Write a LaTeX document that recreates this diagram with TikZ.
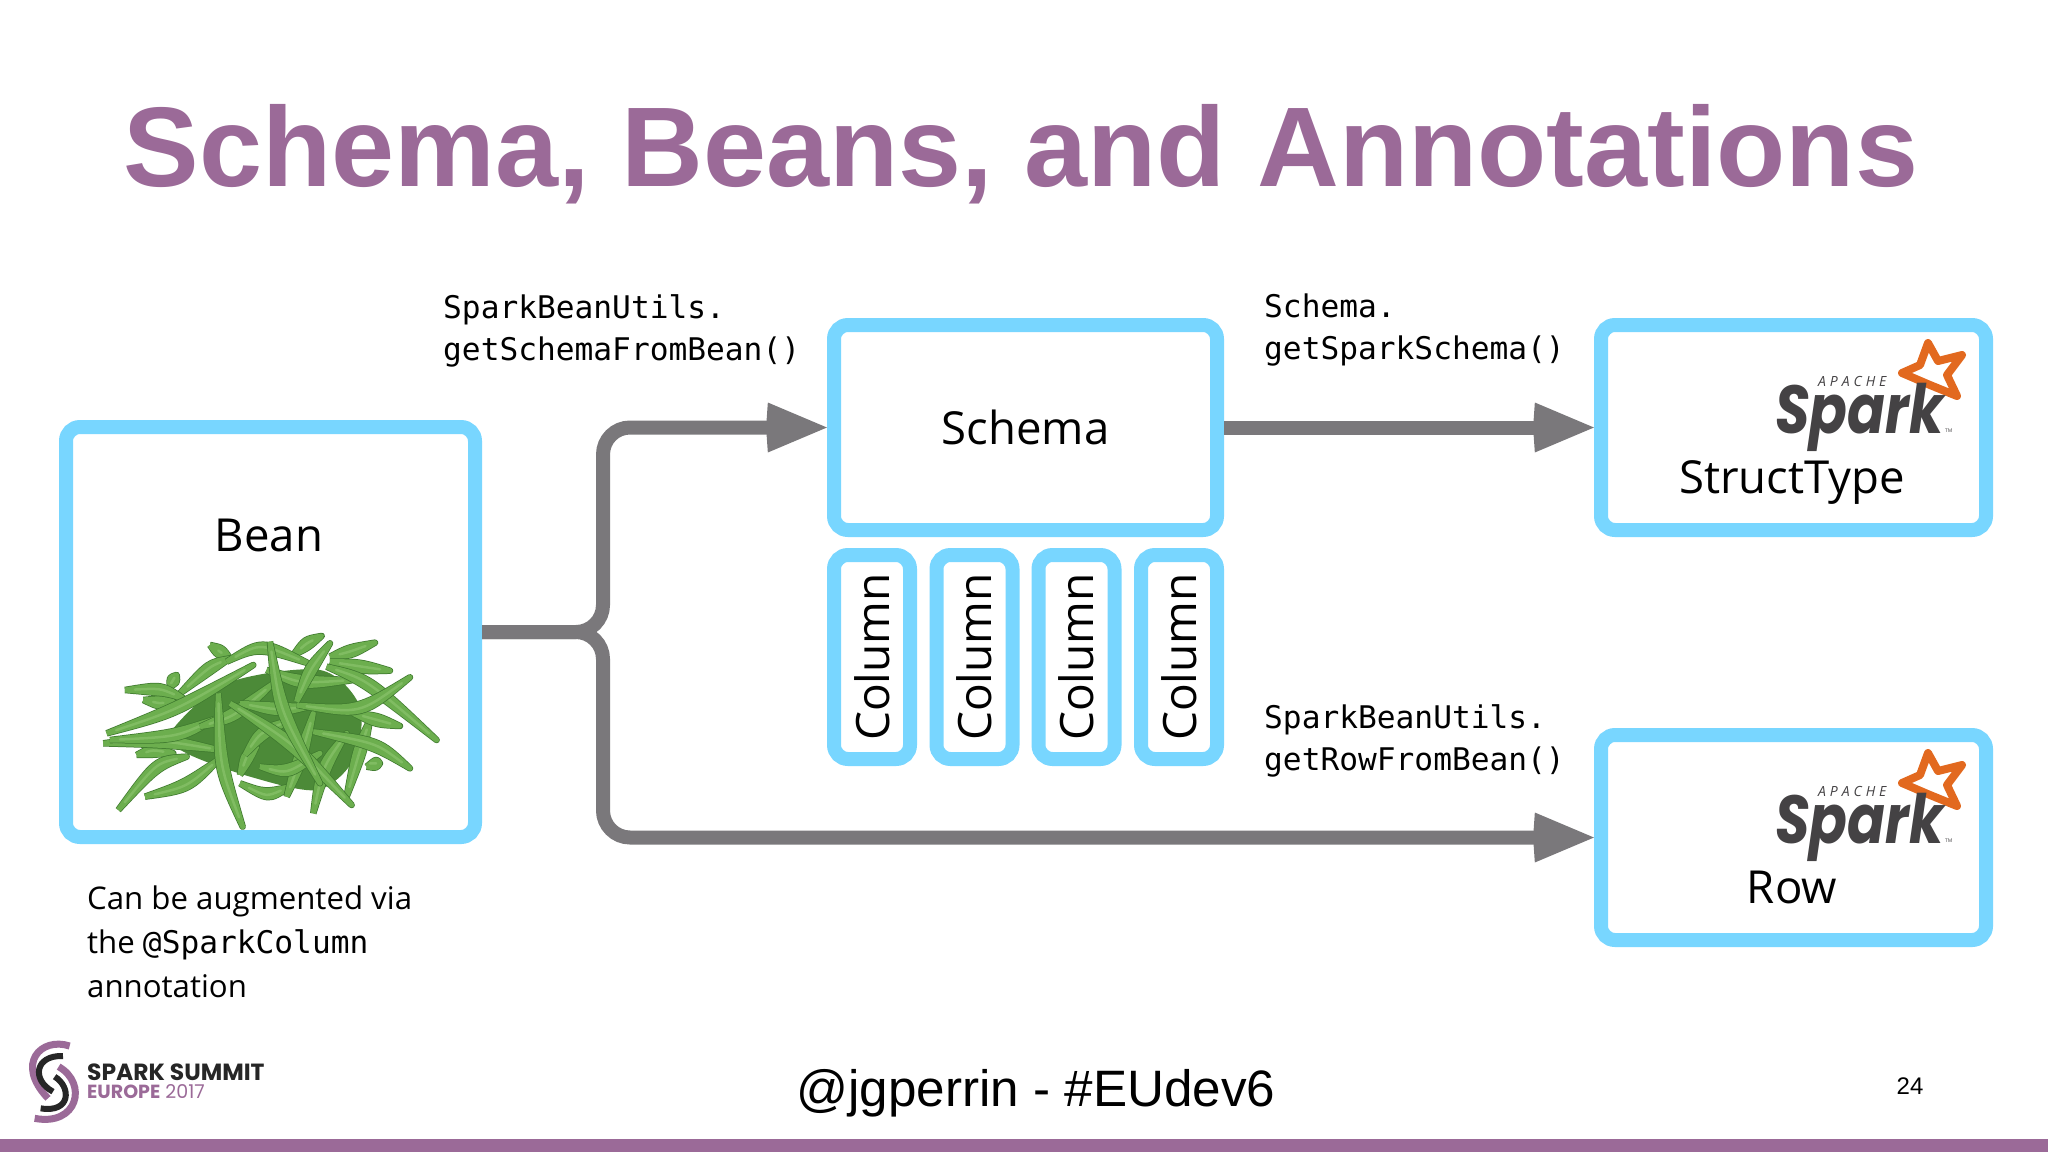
\documentclass[tikz,border=0pt]{standalone}
\usepackage{fontspec}
\setmainfont{Open Sans}
\newfontfamily\titlefont{Liberation Sans}
\newfontfamily\codefont{DejaVu Sans Mono}
\newfontfamily\logofont{Poppins}
\newfontfamily\apachefont[LetterSpace=28]{Open Sans}
\usetikzlibrary{arrows.meta,calc}
\definecolor{skyblue}{HTML}{78D6FF}
\definecolor{flowgray}{HTML}{7A787B}
\definecolor{slidepurple}{HTML}{9B6A98}
\definecolor{sparkgray}{HTML}{444244}
\definecolor{sparkorange}{HTML}{E2691F}
\definecolor{beangreen}{HTML}{6CAE4E}
\definecolor{beanlight}{HTML}{80BC62}
\definecolor{beandark}{HTML}{3F7A2F}
\tikzset{
    box/.style={draw=skyblue, line width=14pt, rounded corners=14pt, fill=white},
    colbox/.style={box, minimum width=204pt, minimum height=76pt, rotate=90, inner sep=0pt, font=\fontsize{46}{50}\selectfont},
    flow/.style={draw=flowgray, line width=14pt, rounded corners=27pt, shorten >=-2pt, -{Stealth[length=59pt, width=44pt, inset=-4pt]}},
    code/.style={anchor=north west, align=left, inner sep=0pt, font=\codefont\fontsize{31.2}{42}\selectfont},
    bigtext/.style={inner sep=0pt, font=\fontsize{45.5}{50}\selectfont},
    sparklogo/.pic={
        \draw[sparkorange, fill=white, line width=8pt, line join=round]
            (153,-90) -- (163,-72) -- (187,-78) -- (172,-58) -- (182,-37) -- (155,-48) -- (127,-60) -- (145,-68) -- cycle;
        \node[anchor=base west, inner sep=0pt, text=sparkgray, font=\logofont\bfseries\itshape\fontsize{68}{70}\selectfont] (-word) at (0,0) {\scalebox{0.82}[1]{Spark}};
        \node[anchor=base west, inner sep=0pt, text=sparkgray, font=\apachefont\itshape\fontsize{14}{14}\selectfont] (-apache) at (43,-47) {APACHE};
        \node[anchor=base west, inner sep=0pt, text=sparkgray, font=\fontsize{5}{6}\selectfont] (-tm) at (170,-1) {TM};
    }
}
\begin{document}
\begin{tikzpicture}[x=1pt, y=-1pt]
    \useasboundingbox (0,0) rectangle (2048,1152);
    \fill[white] (0,0) rectangle (2048,1152);
    \fill[slidepurple] (0,1139) rectangle (2048,1152);

    \node[anchor=base, inner sep=0pt, text=slidepurple, font=\titlefont\bfseries\fontsize{113.3}{120}\selectfont] (title) at (1021,186) {Schema, Beans, and Annotations};

    % boxes
    \node[box, minimum width=409pt, minimum height=410pt] (bean) at (270.5,632) {};
    \node[box, minimum width=383pt, minimum height=205pt, bigtext] (schema) at (1025.5,427.5) {Schema};
    \node[box, minimum width=385pt, minimum height=205pt] (structtype) at (1793.5,427.5) {};
    \node[box, minimum width=385pt, minimum height=205pt] (row) at (1793.5,837.5) {};

    \foreach \i/\x in {1/872,2/974.5,3/1076.5,4/1179}
        \node[colbox] (col\i) at (\x,657) {Column};

    % beans
    \begin{scope}[shift={(60,600)}, x=0.3333pt, y=-0.3333pt]
        \fill[beandark!70!beangreen] plot[smooth cycle] coordinates {(330,400) (500,250) (780,210) (900,320) (880,480) (770,570) (570,530) (380,460)};
        \foreach \p/\q/\r in {
            {450,135}/{480,155}/{510,175}, {700,165}/{740,130}/{785,108}, {810,170}/{870,155}/{945,128},
            {810,185}/{900,200}/{990,212}, {330,260}/{340,240}/{350,225}, {230,465}/{280,450}/{340,460},
            {540,550}/{620,590}/{690,560}, {760,640}/{790,500}/{860,400}, {920,500}/{950,490}/{960,490},
            {860,590}/{900,450}/{930,360}, {680,590}/{720,480}/{760,340}, {540,525}/{560,470}/{590,440},
            {360,280}/{450,200}/{510,175}, {195,270}/{300,265}/{370,295}, {250,300}/{300,310}/{340,305},
            {175,630}/{290,490}/{380,470}, {255,590}/{380,560}/{480,475}, {130,430}/{300,420}/{480,450},
            {140,400}/{350,330}/{580,195}, {150,420}/{350,410}/{470,355}, {500,185}/{600,130}/{745,190},
            {620,210}/{720,250}/{880,240}, {600,500}/{680,520}/{780,460}, {420,380}/{520,350}/{640,250},
            {540,310}/{650,330}/{750,320}, {800,200}/{920,240}/{1130,420}, {760,395}/{950,430}/{1050,505},
            {880,340}/{950,360}/{1020,378}, {710,315}/{900,340}/{1050,232}, {555,465}/{600,400}/{690,360},
            {510,310}/{700,430}/{875,615}, {630,125}/{660,330}/{780,550}, {710,305}/{750,210}/{810,130},
            {475,280}/{480,500}/{548,680}}
        {
            \draw[beandark, fill=beandark, line width=6.5pt, line join=round]
                (\p) .. controls ($(\q)!5pt!90:(\r)$) .. (\r) .. controls ($(\q)!-5pt!90:(\r)$) .. (\p);
            \draw[beangreen, fill=beangreen, line width=5pt, line join=round]
                (\p) .. controls ($(\q)!5pt!90:(\r)$) .. (\r) .. controls ($(\q)!-5pt!90:(\r)$) .. (\p);
            \draw[beanlight, line width=2.5pt, line cap=round, shorten >=10pt, shorten <=10pt] (\p) .. controls (\q) .. (\r);
        }
    \end{scope}

    % connectors
    \coordinate (fork) at (603,632);
    \draw[flow] (bean.east) -- (fork) |- (schema.west);
    \draw[flow] (bean.east) -- (fork) |- (row.west);
    \draw[flow] (schema.east) -- (structtype.west);

    % labels
    \node[code] (lblschema) at (443,294) {SparkBeanUtils.\\getSchemaFromBean()};
    \node[code] (lblstruct) at (1264,294) {Schema.\\getSparkSchema()};
    \node[code] (lblrow) at (1264,704) {SparkBeanUtils.\\getRowFromBean()};

    \node[bigtext] (beanlabel) at (269,535) {Bean};
    \node[bigtext, anchor=base] (structlabel) at (1792,493) {StructType};
    \node[bigtext, anchor=base] (rowlabel) at (1792,903) {Row};

    \pic (sparka) at (1775,433) {sparklogo};
    \pic (sparkb) at (1775,843) {sparklogo};

    \node[anchor=north west, align=left, inner sep=0pt, font=\fontsize{31.2}{44}\selectfont] (note) at (87,886)
        {Can be augmented via\\the {\codefont @SparkColumn}\\annotation};

    % footer
    \node[anchor=base, inner sep=0pt, font=\titlefont\fontsize{51.2}{60}\selectfont] (handle) at (1036,1106) {@jgperrin - \#EUdev6};
    \node[inner sep=0pt, font=\titlefont\fontsize{24}{28}\selectfont] (page) at (1910,1086) {24};

    % summit logo
    \begin{scope}[shift={(-2,1020)}, x=0.3333pt, y=-0.3333pt]
        \draw[slidepurple, line width=7pt] (215,78) .. controls (130,50) and (50,130) .. (150,235);
        \draw[slidepurple, line width=7pt] (182,140) .. controls (270,190) and (240,320) .. (110,295);
        \draw[black!85, line width=6pt] (195,108) .. controls (110,105) and (100,180) .. (165,215);
        \draw[black!85, line width=6pt] (170,170) .. controls (220,200) and (220,280) .. (128,265);
    \end{scope}
    \node[anchor=base west, inner sep=0pt, text=black!85, font=\logofont\bfseries\fontsize{23.4}{24}\selectfont] (summit) at (87,1080) {SPARK SUMMIT};
    \node[anchor=base west, inner sep=0pt, text=slidepurple, font=\logofont\fontsize{19}{20}\selectfont] (europe) at (87,1098) {\textbf{EUROPE} 2017};
\end{tikzpicture}
\end{document}
